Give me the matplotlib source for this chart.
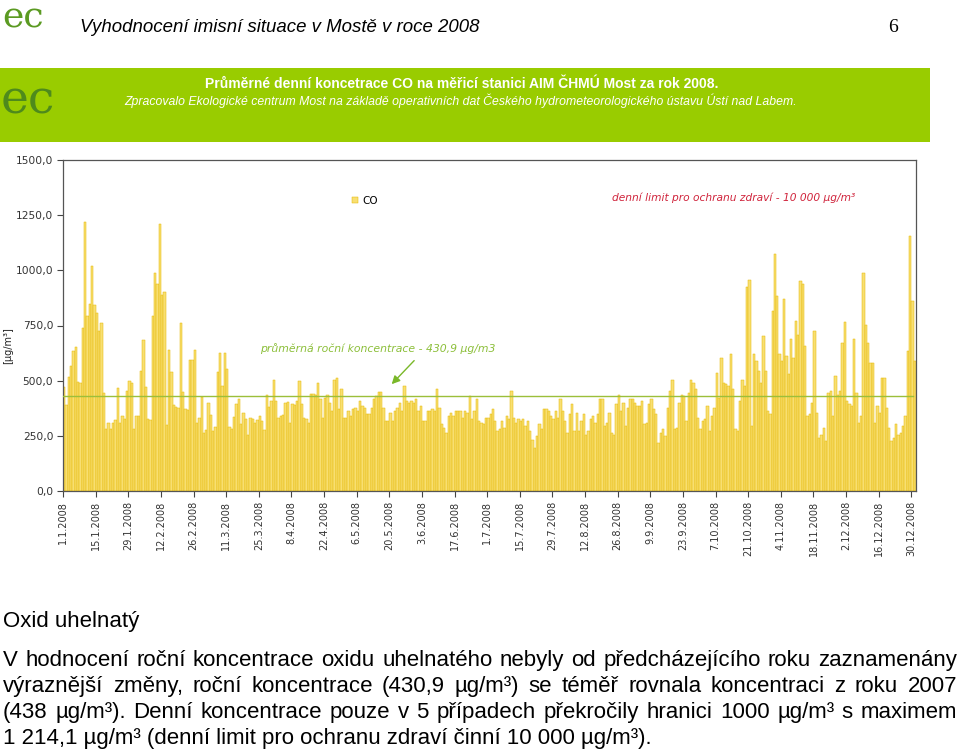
import matplotlib
matplotlib.use("Agg")
import matplotlib.pyplot as plt
from matplotlib.patches import Rectangle
from matplotlib.ticker import FuncFormatter

# daily CO averages [ug/m3] in 14-day blocks (block start date in name)
d_0101 = [472, 389, 517, 565, 634, 653, 495, 490, 739, 1220, 792, 848, 1018, 845]
d_1501 = [805, 725, 761, 445, 280, 310, 280, 310, 320, 465, 310, 340, 325, 455]
d_2901 = [500, 490, 280, 340, 340, 545, 685, 470, 325, 320, 795, 990, 940, 1210]
d_1202 = [890, 900, 300, 640, 540, 390, 380, 375, 760, 450, 370, 365, 595, 595]
d_2602 = [640, 310, 330, 425, 265, 275, 400, 345, 270, 290, 540, 625, 475, 625]
d_1103 = [555, 290, 280, 335, 395, 415, 305, 355, 325, 255, 330, 325, 310, 320]
d_2503 = [340, 315, 275, 435, 380, 410, 505, 410, 330, 340, 345, 400, 405, 310]
d_0804 = [395, 390, 410, 500, 395, 330, 325, 310, 440, 440, 435, 490, 415, 330]
d_2204 = [422, 437, 400, 362, 505, 513, 370, 460, 332, 332, 362, 340, 370, 377]
d_0605 = [362, 407, 385, 377, 347, 347, 377, 415, 430, 449, 449, 377, 317, 317]
d_2005 = [354, 317, 362, 377, 400, 362, 475, 407, 400, 407, 400, 415, 362, 385]
d_0306 = [317, 317, 362, 362, 370, 362, 460, 377, 302, 286, 264, 340, 354, 340]
d_1706 = [362, 362, 362, 332, 362, 354, 430, 325, 362, 415, 317, 310, 305, 332]
d_0107 = [332, 347, 370, 317, 272, 279, 317, 286, 340, 325, 453, 332, 310, 325]
d_1507 = [317, 325, 294, 317, 272, 233, 196, 249, 302, 279, 370, 370, 362, 340]
d_2907 = [325, 362, 332, 415, 362, 317, 264, 347, 392, 272, 354, 272, 317, 347]
d_1208 = [256, 272, 325, 340, 310, 347, 415, 415, 294, 310, 354, 264, 256, 392]
d_2608 = [434, 362, 400, 294, 377, 415, 415, 400, 385, 385, 407, 302, 310, 392]
d_0909 = [415, 370, 347, 218, 264, 279, 249, 377, 453, 501, 279, 286, 400, 437]
d_2309 = [430, 317, 445, 505, 490, 460, 332, 279, 317, 325, 385, 272, 340, 377]
d_0710 = [535, 422, 603, 490, 483, 475, 619, 460, 279, 272, 407, 505, 475, 923]
d_2110 = [958, 294, 621, 589, 543, 490, 701, 543, 362, 347, 815, 1072, 883, 621]
d_0411 = [589, 872, 611, 528, 687, 603, 770, 709, 951, 936, 656, 340, 347, 400]
d_1811 = [725, 354, 242, 256, 286, 226, 445, 453, 340, 520, 437, 453, 671, 765]
d_0212 = [407, 392, 385, 687, 445, 310, 340, 988, 754, 671, 580, 580, 310, 385]
d_1612 = [354, 513, 513, 377, 286, 226, 242, 302, 256, 264, 294, 340, 634, 1155, 860, 591]

co = (d_0101 + d_1501 + d_2901 + d_1202 + d_2602 + d_1103 + d_2503 + d_0804 +
      d_2204 + d_0605 + d_2005 + d_0306 + d_1706 + d_0107 + d_1507 + d_2907 +
      d_1208 + d_2608 + d_0909 + d_2309 + d_0710 + d_2110 + d_0411 + d_1811 +
      d_0212 + d_1612)

annual_mean = 430.9
tick_step = 14
tick_labels = ["1.1.2008", "15.1.2008", "29.1.2008", "12.2.2008", "26.2.2008",
               "11.3.2008", "25.3.2008", "8.4.2008", "22.4.2008", "6.5.2008",
               "20.5.2008", "3.6.2008", "17.6.2008", "1.7.2008", "15.7.2008",
               "29.7.2008", "12.8.2008", "26.8.2008", "9.9.2008", "23.9.2008",
               "7.10.2008", "21.10.2008", "4.11.2008", "18.11.2008", "2.12.2008",
               "16.12.2008", "30.12.2008"]

W, H = 960, 751
fig = plt.figure(figsize=(W / 100, H / 100), dpi=100)
fig.patch.set_facecolor("white")

def fx(px):
    return px / W

def fy(py):
    return 1 - py / H

green = "#99cc00"
logo_green = "#5b9a22"

# page header
fig.text(fx(2), fy(18), "ec", fontsize=26, family="DejaVu Serif", color=logo_green,
         va="center", ha="left")
fig.text(fx(80), fy(28), "Vyhodnocení imisní situace v Mostě v roce 2008",
         fontsize=13.4, style="italic", family="Liberation Sans", va="center")
fig.text(fx(893), fy(28), "6", fontsize=14, family="Liberation Serif", va="center", ha="center")

# green banner
fig.patches.append(Rectangle((0, fy(142)), fx(930), fy(68) - fy(142),
                             transform=fig.transFigure, facecolor=green,
                             edgecolor="none", zorder=0))
fig.text(fx(1), fy(101), "ec", fontsize=34, family="DejaVu Serif", color="#4e8a1c",
         va="center", ha="left")
fig.text(fx(462), fy(84), "Průměrné denní koncetrace CO na měřicí stanici AIM ČHMÚ Most za rok 2008.",
         fontsize=10, weight="bold", color="white", family="Liberation Sans",
         ha="center", va="center")
fig.text(fx(461), fy(101),
         "Zpracovalo Ekologické centrum Most na základě operativních dat Českého "
         "hydrometeorologického ústavu Ústí nad Labem.",
         fontsize=8.8, style="italic", color="white", family="Liberation Sans",
         ha="center", va="center")

# chart
ax = fig.add_axes([fx(63), fy(491), fx(916) - fx(63), fy(160) - fy(491)])
days = list(range(len(co)))
ax.bar(days, co, width=1.0, align="edge", color="#f8df72", edgecolor="#e6b800",
       linewidth=0.35, label="CO", zorder=2)
ax.axhline(annual_mean, xmin=0, xmax=(len(co) - 1.5) / len(co), color="#9cbf3a",
           linewidth=1.0, zorder=3)

ax.set_xlim(0, len(co))
ax.set_ylim(0, 1500)
ax.set_yticks(range(0, 1501, 250))
ax.yaxis.set_major_formatter(FuncFormatter(lambda v, p: f"{v:.1f}".replace(".", ",")))
ax.set_xticks(range(0, len(co), tick_step))
ax.set_xticklabels(tick_labels, rotation=90, fontsize=7, color="#333333")
for lab in ax.get_yticklabels():
    lab.set_fontsize(7.7)
    lab.set_color("#333333")
ax.tick_params(axis="both", direction="out", length=4, width=0.8, color="#444444", pad=3)
for s in ax.spines.values():
    s.set_color("#555555")
    s.set_linewidth(0.9)

fig.text(fx(8), fy(346), "[µg/m³]", rotation=90, fontsize=7, color="#222222",
         ha="center", va="center")

ax.legend(loc="upper left", bbox_to_anchor=(0.334, 0.905), frameon=False,
          fontsize=7.5, handlelength=0.6, handleheight=0.6, handletextpad=0.4,
          borderaxespad=0)

ax.text(235.5, 1330, "denní limit pro ochranu zdraví - 10 000 µg/m³", fontsize=7.7,
        style="italic", color="#d0243c", va="center", ha="left")
ax.text(84.5, 645, "průměrná roční koncentrace - 430,9 µg/m3", fontsize=7.8,
        style="italic", color="#8cbf3a", va="center", ha="left")
ax.annotate("", xy=(140.2, 475), xytext=(151.5, 600),
            arrowprops=dict(arrowstyle="-|>", color="#7ab829", lw=1.0,
                            mutation_scale=12))

# text below the chart
body_font = dict(fontsize=16, family="Liberation Sans", color="black")
fig.text(fx(3), fy(627), "Oxid uhelnatý", **body_font)

lines = [
    "V hodnocení roční koncentrace oxidu uhelnatého nebyly od předcházejícího roku zaznamenány",
    "výraznější změny, roční koncentrace (430,9 µg/m³) se téměř rovnala koncentraci z roku 2007",
    "(438 µg/m³). Denní koncentrace pouze v 5 případech překročily hranici 1000 µg/m³ s maximem",
]
last_line = "1 214,1 µg/m³ (denní limit pro ochranu zdraví činní 10 000 µg/m³)."
baselines = [666, 692, 718, 744]

renderer = fig.canvas.get_renderer()
x_left, x_right = 3, 957
for line, base in zip(lines, baselines):
    words = line.split(" ")
    texts = [fig.text(0, fy(base), w, va="baseline", **body_font) for w in words]
    widths = [t.get_window_extent(renderer).width for t in texts]
    gap = (x_right - x_left - sum(widths)) / (len(words) - 1)
    x = x_left
    for t, wdt in zip(texts, widths):
        t.set_x(fx(x))
        x += wdt + gap
fig.text(fx(x_left), fy(baselines[3]), last_line, va="baseline", **body_font)

fig.savefig("out.png", dpi=100, facecolor="white")
